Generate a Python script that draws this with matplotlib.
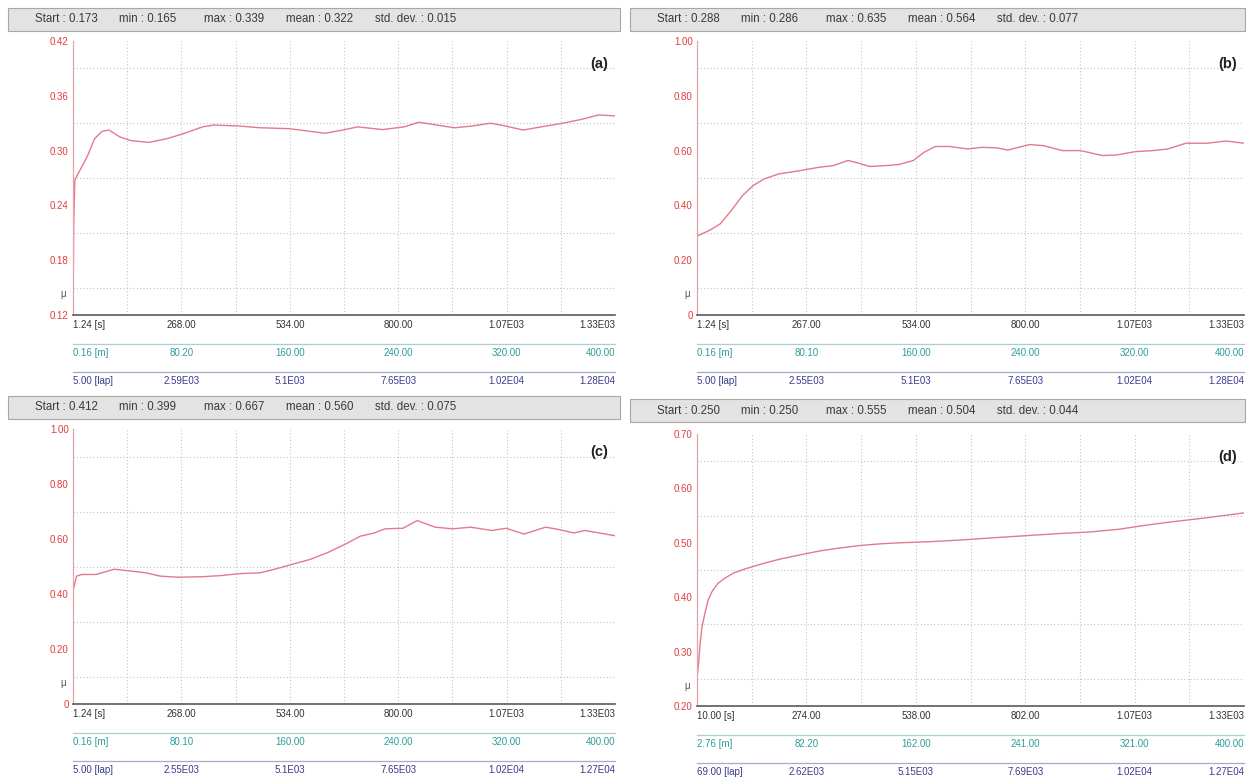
import matplotlib
matplotlib.use("Agg")
import matplotlib.pyplot as plt
import numpy as np
from matplotlib.patches import Rectangle
from matplotlib.transforms import blended_transform_factory

plt.rcParams['font.family'] = ['Liberation Sans', 'DejaVu Sans']

W, H = 1250, 780

# ---------------- data ----------------
stat_names = ["Start", "min", "max", "mean", "std. dev."]

stats_a = ["0.173", "0.165", "0.339", "0.322", "0.015"]
stats_b = ["0.288", "0.286", "0.635", "0.564", "0.077"]
stats_c = ["0.412", "0.399", "0.667", "0.560", "0.075"]
stats_d = ["0.250", "0.250", "0.555", "0.504", "0.044"]

time_a = [1.24, 2.0, 3.0, 5.7, 18.9, 36.6, 54.2, 71.9, 89.5, 116, 143, 187, 231,
          275, 319, 346, 407, 460, 531, 584, 619, 663, 699, 760, 813, 849,
          893, 937, 981, 1025, 1061, 1105, 1149, 1202, 1246, 1290, 1330]
mu_a = [0.173, 0.165, 0.220, 0.268, 0.279, 0.294, 0.313, 0.321, 0.3225, 0.315,
        0.311, 0.309, 0.313, 0.319, 0.326, 0.328, 0.327, 0.325, 0.324, 0.321,
        0.319, 0.3225, 0.326, 0.323, 0.326, 0.331, 0.328, 0.325, 0.327, 0.330,
        0.327, 0.3225, 0.326, 0.330, 0.334, 0.339, 0.338]

time_b = [1.24, 32, 58, 85, 112, 138, 165, 200, 244, 297, 332, 368, 394, 421,
          456, 491, 527, 553, 580, 615, 659, 694, 730, 756, 809, 844, 889, 933,
          986, 1021, 1065, 1109, 1145, 1189, 1242, 1286, 1330]
mu_b = [0.288, 0.309, 0.333, 0.382, 0.436, 0.473, 0.497, 0.515, 0.525, 0.539,
        0.545, 0.564, 0.554, 0.542, 0.545, 0.549, 0.564, 0.594, 0.615, 0.615,
        0.606, 0.612, 0.610, 0.602, 0.622, 0.618, 0.600, 0.600, 0.582, 0.584,
        0.596, 0.600, 0.606, 0.627, 0.627, 0.635, 0.627]

time_c = [1.24, 10, 23, 58, 102, 146, 180, 215, 259, 320, 364, 408, 460, 495,
          539, 583, 626, 670, 705, 740, 766, 810, 845, 889, 932, 976, 1028,
          1063, 1107, 1160, 1194, 1229, 1256, 1291, 1330]
mu_c = [0.412, 0.465, 0.471, 0.471, 0.490, 0.483, 0.477, 0.465, 0.461, 0.463,
        0.467, 0.474, 0.477, 0.490, 0.508, 0.526, 0.551, 0.582, 0.610, 0.622,
        0.637, 0.639, 0.667, 0.643, 0.637, 0.643, 0.631, 0.639, 0.618, 0.643,
        0.634, 0.622, 0.631, 0.622, 0.612]

time_d = [10, 14, 17, 22, 29, 37, 46, 60, 77, 100, 126, 170, 210, 260, 306,
          350, 403, 450, 499, 570, 643, 740, 884, 960, 1029, 1090, 1150, 1240,
          1330]
mu_d = [0.250, 0.280, 0.310, 0.345, 0.370, 0.395, 0.410, 0.425, 0.435, 0.445,
        0.452, 0.462, 0.470, 0.478, 0.485, 0.490, 0.495, 0.498, 0.500, 0.502,
        0.505, 0.510, 0.517, 0.520, 0.525, 0.532, 0.538, 0.546, 0.555]

# bottom scale rows: time [s], distance [m], laps
time_labels_a = ["1.24 [s]", "268.00", "534.00", "800.00", "1.07E03", "1.33E03"]
dist_labels_a = ["0.16 [m]", "80.20", "160.00", "240.00", "320.00", "400.00"]
lap_labels_a = ["5.00 [lap]", "2.59E03", "5.1E03", "7.65E03", "1.02E04", "1.28E04"]

time_labels_b = ["1.24 [s]", "267.00", "534.00", "800.00", "1.07E03", "1.33E03"]
dist_labels_b = ["0.16 [m]", "80.10", "160.00", "240.00", "320.00", "400.00"]
lap_labels_b = ["5.00 [lap]", "2.55E03", "5.1E03", "7.65E03", "1.02E04", "1.28E04"]

time_labels_c = ["1.24 [s]", "268.00", "534.00", "800.00", "1.07E03", "1.33E03"]
dist_labels_c = ["0.16 [m]", "80.10", "160.00", "240.00", "320.00", "400.00"]
lap_labels_c = ["5.00 [lap]", "2.55E03", "5.1E03", "7.65E03", "1.02E04", "1.27E04"]

time_labels_d = ["10.00 [s]", "274.00", "538.00", "802.00", "1.07E03", "1.33E03"]
dist_labels_d = ["2.76 [m]", "82.20", "162.00", "241.00", "321.00", "400.00"]
lap_labels_d = ["69.00 [lap]", "2.62E03", "5.15E03", "7.69E03", "1.02E04", "1.27E04"]

yticks_a = [0.12, 0.18, 0.24, 0.30, 0.36, 0.42]
ylabels_a = ["0.12", "0.18", "0.24", "0.30", "0.36", "0.42"]
yticks_b = [0.0, 0.2, 0.4, 0.6, 0.8, 1.0]
ylabels_b = ["0", "0.20", "0.40", "0.60", "0.80", "1.00"]
yticks_d = [0.2, 0.3, 0.4, 0.5, 0.6, 0.7]
ylabels_d = ["0.20", "0.30", "0.40", "0.50", "0.60", "0.70"]

# ---------------- styling ----------------
CURVE = "#e27a8c"
YLAB = "#e23b3b"
TROW = "#333333"
DROW = "#2f9c9c"
LROW = "#3b3b8f"
GRID = "#c4c4c4"

fig = plt.figure(figsize=(W / 100, H / 100), dpi=100)
fig.patch.set_facecolor("white")


def add_px_axes(l, t, r, b):
    return fig.add_axes([l / W, 1 - b / H, (r - l) / W, (b - t) / H])


def header(l, t, r, b, values):
    fig.patches.append(Rectangle((l / W, 1 - b / H), (r - l) / W, (b - t) / H,
                                 transform=fig.transFigure, facecolor="#e3e3e3",
                                 edgecolor="#a8a8a8", lw=0.8))
    offsets = [27, 111, 196, 278, 367]
    yc = 1 - (t + b) / 2 / H
    for name, val, off in zip(stat_names, values, offsets):
        fig.text((l + off) / W, yc, f"{name} : {val}", fontsize=8.3,
                 color="#3a3a3a", va="center", ha="left")


def panel(box, hbox, values, t, mu, ylim, yticks, ylabels, rows, letter,
          row_px=(10, 38, 66)):
    header(*hbox, values)
    l, top, r, b = box
    ax = add_px_axes(l, top, r, b)
    hpx = b - top
    x0, x1 = t[0], t[-1]
    ax.plot(t, mu, color=CURVE, lw=1.0, solid_joinstyle="round")
    ax.set_xlim(x0, x1)
    ax.set_ylim(*ylim)

    ax.set_xticks([])
    ax.set_xticks(np.linspace(x0, x1, 11), minor=True)
    ax.set_yticks(yticks)
    ax.set_yticklabels(ylabels)
    ax.set_yticks(np.linspace(ylim[0], ylim[1], 11), minor=True)
    ax.tick_params(axis="y", which="both", length=0, labelsize=7,
                   labelcolor=YLAB, pad=3)
    ax.tick_params(axis="x", which="both", length=0)
    ax.grid(which="minor", color=GRID, linestyle=(0, (1, 2)), lw=0.8)
    for s in ("top", "right"):
        ax.spines[s].set_visible(False)
    ax.spines["left"].set_color("#eaa0a8")
    ax.spines["left"].set_linewidth(0.9)
    ax.spines["bottom"].set_color("#5a5a5a")
    ax.spines["bottom"].set_linewidth(1.2)

    ax.text(-0.012, 0.075, "μ", transform=ax.transAxes, ha="right",
            va="center", fontsize=7, color="#555555")
    ax.text(0.988, 0.915, letter, transform=ax.transAxes, ha="right",
            va="center", fontsize=10.5, fontweight="bold", color="#222222")

    trans = blended_transform_factory(ax.transData, ax.transAxes)
    tick_pos = np.linspace(x0, x1, 6)
    colors = [TROW, DROW, LROW]
    for k, (labels, color, off) in enumerate(zip(rows, colors, row_px)):
        yf = -off / hpx
        for i, (xv, lab) in enumerate(zip(tick_pos, labels)):
            ha = "left" if i == 0 else ("right" if i == len(labels) - 1 else "center")
            ax.text(xv, yf, lab, transform=trans, ha=ha, va="center",
                    fontsize=7, color=color, clip_on=False)
        if k > 0:
            ly = -(off - 9) / hpx
            line_color = "#a9cfcf" if k == 1 else "#a9a9c8"
            ax.plot([0, 1], [ly, ly], transform=ax.transAxes, color=line_color,
                    lw=0.9, clip_on=False)
    return ax


panel((73, 41, 615, 315), (8, 8, 620, 31), stats_a, time_a, mu_a,
      (0.12, 0.42), yticks_a, ylabels_a,
      (time_labels_a, dist_labels_a, lap_labels_a), "(a)")
panel((697, 41, 1244, 315), (630, 8, 1245, 31), stats_b, time_b, mu_b,
      (0.0, 1.0), yticks_b, ylabels_b,
      (time_labels_b, dist_labels_b, lap_labels_b), "(b)")
panel((73, 429, 615, 704), (8, 396, 620, 419), stats_c, time_c, mu_c,
      (0.0, 1.0), yticks_b, ylabels_b,
      (time_labels_c, dist_labels_c, lap_labels_c), "(c)")
panel((697, 434, 1244, 706), (630, 399, 1245, 422), stats_d, time_d, mu_d,
      (0.2, 0.7), yticks_d, ylabels_d,
      (time_labels_d, dist_labels_d, lap_labels_d), "(d)")

fig.savefig("out.png", dpi=100, facecolor="white")
